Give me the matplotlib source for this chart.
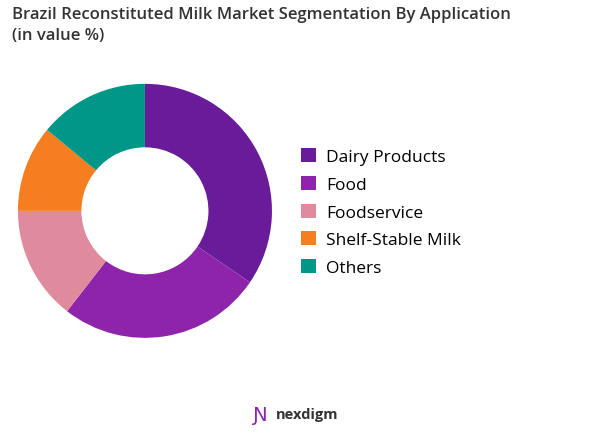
import matplotlib
matplotlib.use("Agg")
import matplotlib.pyplot as plt

categories = ["Dairy Products", "Food", "Foodservice", "Shelf-Stable Milk", "Others"]
values = [34.5, 26.0, 14.5, 11.0, 14.0]
colors = ["#6A1B9A", "#8E24AA", "#E08A9E", "#F57F20", "#009688"]

fig = plt.figure(figsize=(5.94, 4.35), dpi=100)
ax = fig.add_axes([0.030, 0.221, 0.428, 0.584])
wedges, _ = ax.pie(values, colors=colors, startangle=90, counterclock=False,
                   radius=1.0, wedgeprops=dict(width=0.5, linewidth=0))
ax.set_xlim(-1, 1); ax.set_ylim(-1, 1)
ax.set_aspect("equal")

fig.text(0.02, 0.985, "Brazil Reconstituted Milk Market Segmentation By Application\n(in value %)",
         ha="left", va="top", fontsize=12, color="#333333", family="Open Sans",
         fontweight="semibold", linespacing=1.45)

fig.legend(wedges, categories, loc="center left", bbox_to_anchor=(0.48, 0.51),
           frameon=False, handlelength=0.85, handleheight=0.85, handletextpad=0.6,
           labelspacing=0.62, prop={"family": "Open Sans", "size": 12.5})

fig.text(0.465, 0.045, "nexdigm", ha="left", va="center", fontsize=10.5, color="#333333",
         family="Open Sans", fontweight="bold")
fig.text(0.425, 0.045, "Ɲ", ha="left", va="center", fontsize=14, color="#8E24AA")

fig.savefig("out.png", dpi=100)
